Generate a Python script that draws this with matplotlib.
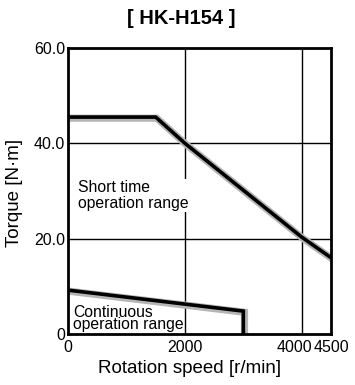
import matplotlib
matplotlib.use("Agg")
import matplotlib.pyplot as plt
import matplotlib.transforms as mtransforms

plt.rcParams['font.family'] = ['Liberation Sans', 'DejaVu Sans']

short_speed = [0, 1500, 2000, 4000, 4500]
short_torque = [45.5, 45.5, 40.0, 20.3, 16.0]
cont_speed = [0, 3000, 3000]
cont_torque = [9.2, 4.8, 0.0]
xticks = [0, 2000, 4000, 4500]
xticklabels = ["0", "2000", "4000", "4500"]
yticks = [0, 20, 40, 60]
yticklabels = ["0", "20.0", "40.0", "60.0"]

fig = plt.figure(figsize=(3.55, 3.85), dpi=100)
ax = fig.add_axes([0.1915, 0.1325, 0.741, 0.743])
ax.set_xlim(0, 4500)
ax.set_ylim(0, 60)

for v in [2000, 4000]:
    ax.axvline(v, color='black', lw=1.0, zorder=1)
for h in [20, 40]:
    ax.axhline(h, color='black', lw=1.0, zorder=1)

shadow = mtransforms.offset_copy(ax.transData, fig=fig, x=0.8, y=-0.8, units='points')
for xs, ys in [(short_speed, short_torque), (cont_speed, cont_torque)]:
    ax.plot(xs, ys, color='#b5b5b5', lw=5.2, transform=shadow, zorder=3,
            solid_joinstyle='miter')
    ax.plot(xs, ys, color='black', lw=2.6, zorder=4, solid_joinstyle='miter')

ax.set_xticks(xticks)
ax.set_xticklabels(xticklabels, fontsize=11.5)
ax.set_yticks(yticks)
ax.set_yticklabels(yticklabels, fontsize=11.5)
ax.tick_params(axis='y', length=0, pad=2)
ax.tick_params(axis='x', length=0, pad=4)
# nudge the crowded 4000 label left
xl = ax.get_xticklabels()
xl[2].set_transform(xl[2].get_transform() +
                    mtransforms.ScaledTranslation(-7 / 100, 0, fig.dpi_scale_trans))
for s in ax.spines.values():
    s.set_linewidth(2.0)
    s.set_zorder(5)

fig.text(0.533, 0.044, "Rotation speed [r/min]", ha='center', va='center',
         fontsize=13.5)
fig.text(0.041, 0.499, "Torque [N\u00b7m]", ha='center', va='center',
         fontsize=13.5, rotation=90)
fig.text(0.511, 0.953, "[ HK-H154 ]", ha='center', va='center', fontsize=14.5,
         fontweight='bold')

ax.text(170, 32.3, "Short time\noperation range", fontsize=11.3, va='top',
        ha='left', linespacing=1.05, zorder=6,
        bbox=dict(facecolor='white', edgecolor='none', pad=1.0))
ax.text(85, 0.35, "Continuous\noperation range", fontsize=11.3, va='bottom',
        ha='left', linespacing=0.8, zorder=6)

fig.savefig("out.png", dpi=100)
